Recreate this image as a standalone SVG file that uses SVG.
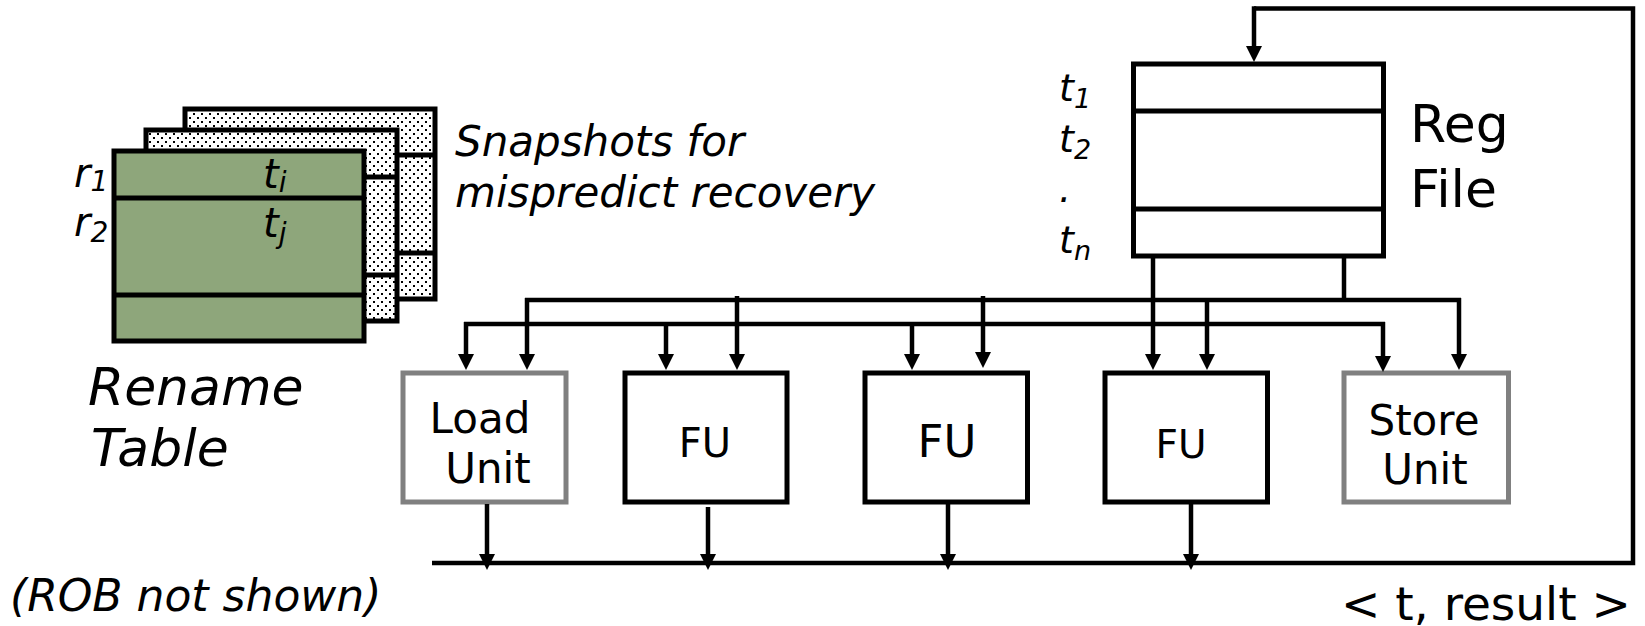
<svg xmlns="http://www.w3.org/2000/svg" width="1645" height="626" viewBox="0 0 1645 626">
<style>
text { font-family: "DejaVu Sans", Verdana, sans-serif; fill: #000; }
.it { font-style: italic; }
.box { fill: #fff; stroke: #000; stroke-width: 5; }
.gbox { fill: #fff; stroke: #808080; stroke-width: 5; }
.snap { fill: url(#dots); stroke: #000; stroke-width: 5; }
.row { stroke: #000; stroke-width: 5; fill: none; }
.wire { stroke: #000; stroke-width: 4.5; fill: none; }
.arr { stroke: #000; stroke-width: 4.5; fill: none; marker-end: url(#ah); }
</style>
<defs>
<pattern id="dots" width="8" height="8" patternUnits="userSpaceOnUse">
<rect width="8" height="8" fill="#fff"/>
<rect x="1" y="1" width="2" height="2" fill="#000"/>
<rect x="5" y="5" width="2" height="2" fill="#000"/>
</pattern>
<marker id="ah" viewBox="0 0 16 16" refX="9" refY="8" markerWidth="16" markerHeight="16" markerUnits="userSpaceOnUse" orient="auto">
<path d="M0,0 L16,8 L0,16 z" fill="#000"/>
</marker>
</defs>

<g id="snapshot-back">
<rect class="snap" x="185" y="109" width="250" height="190"/>
<line class="row" x1="185" y1="155" x2="435" y2="155"/>
<line class="row" x1="185" y1="253" x2="435" y2="253"/>
</g>
<g id="snapshot-middle">
<rect class="snap" x="146" y="130" width="251" height="191"/>
<line class="row" x1="146" y1="177" x2="397" y2="177"/>
<line class="row" x1="146" y1="275" x2="397" y2="275"/>
</g>
<g id="rename-table">
<rect x="114" y="151" width="250" height="190" fill="#8ea67b" stroke="#000" stroke-width="5"/>
<line class="row" x1="114" y1="198" x2="364" y2="198"/>
<line class="row" x1="114" y1="295" x2="364" y2="295"/>
<text class="it" x="74" y="187" font-size="40">r<tspan font-size="28" dy="4">1</tspan></text>
<text class="it" x="74" y="236" font-size="40">r<tspan font-size="28" dy="6">2</tspan></text>
<text class="it" x="263" y="188" font-size="40">t<tspan font-size="28" dy="4">i</tspan></text>
<text class="it" x="263" y="237" font-size="40">t<tspan font-size="28" dy="6">j</tspan></text>
<text class="it" x="88" y="405" font-size="52">Rename</text>
<text class="it" x="91" y="466" font-size="52">Table</text>
</g>
<g id="snapshot-label">
<text class="it" x="455" y="156" font-size="42">Snapshots for</text>
<text class="it" x="455" y="207" font-size="42">mispredict recovery</text>
</g>
<g id="rob-note">
<text class="it" x="10" y="611" font-size="44">(ROB not shown)</text>
</g>

<g id="reg-file">
<rect class="box" x="1133.5" y="64" width="250" height="192"/>
<line class="row" x1="1133.5" y1="111" x2="1383.5" y2="111"/>
<line class="row" x1="1133.5" y1="209" x2="1383.5" y2="209"/>
<text class="it" x="1059" y="101" font-size="38">t<tspan font-size="27" dy="7">1</tspan></text>
<text class="it" x="1059" y="152" font-size="38">t<tspan font-size="27" dy="7">2</tspan></text>
<text class="it" x="1059" y="202" font-size="38">.</text>
<text class="it" x="1059" y="253" font-size="38">t<tspan font-size="27" dy="7">n</tspan></text>
<text x="1410" y="142" font-size="52">Reg</text>
<text x="1410" y="207" font-size="52">File</text>
</g>

<g id="load-unit">
<rect class="gbox" x="403" y="373" width="163" height="129"/>
<text x="480" y="433" font-size="42" text-anchor="middle">Load</text>
<text x="488" y="483" font-size="42" text-anchor="middle">Unit</text>
</g>
<g id="fu1">
<rect class="box" x="625" y="373" width="162" height="129"/>
<text x="705" y="457" font-size="40" text-anchor="middle">FU</text>
</g>
<g id="fu2">
<rect class="box" x="865" y="373" width="162.5" height="129"/>
<text x="947" y="457" font-size="45" text-anchor="middle">FU</text>
</g>
<g id="fu3">
<rect class="box" x="1105" y="373" width="162.5" height="129"/>
<text x="1181" y="458" font-size="39" text-anchor="middle">FU</text>
</g>
<g id="store-unit">
<rect class="gbox" x="1344" y="373" width="164.5" height="129"/>
<text x="1424" y="435" font-size="42" text-anchor="middle">Store</text>
<text x="1425" y="484" font-size="42" text-anchor="middle">Unit</text>
</g>
<g id="result-label">
<text x="1341" y="620" font-size="47">&lt; t, result &gt;</text>
</g>

<g id="connectors">
<line class="wire" x1="525" y1="300" x2="1461" y2="300"/>
<line class="wire" x1="464" y1="324" x2="1385" y2="324"/>
<line class="wire" x1="1344" y1="258" x2="1344" y2="300"/>
<path class="arr" d="M466,322 V363"/>
<path class="arr" d="M527,298 V363"/>
<path class="arr" d="M666,322 V363"/>
<path class="arr" d="M737,296 V363"/>
<path class="arr" d="M912,322 V363"/>
<path class="arr" d="M983,296 V361"/>
<path class="arr" d="M1153,258 V363"/>
<path class="arr" d="M1207,298 V363"/>
<path class="arr" d="M1383,322 V365"/>
<path class="arr" d="M1459,298 V363"/>
<path class="wire" d="M432,563 H1633 V8.5 H1254"/>
<path class="arr" d="M1254,6.3 V55"/>
<path class="arr" d="M487,504 V563"/>
<path class="arr" d="M708,507 V563"/>
<path class="arr" d="M948,504 V563"/>
<path class="arr" d="M1191,504 V563"/>
</g>
</svg>
